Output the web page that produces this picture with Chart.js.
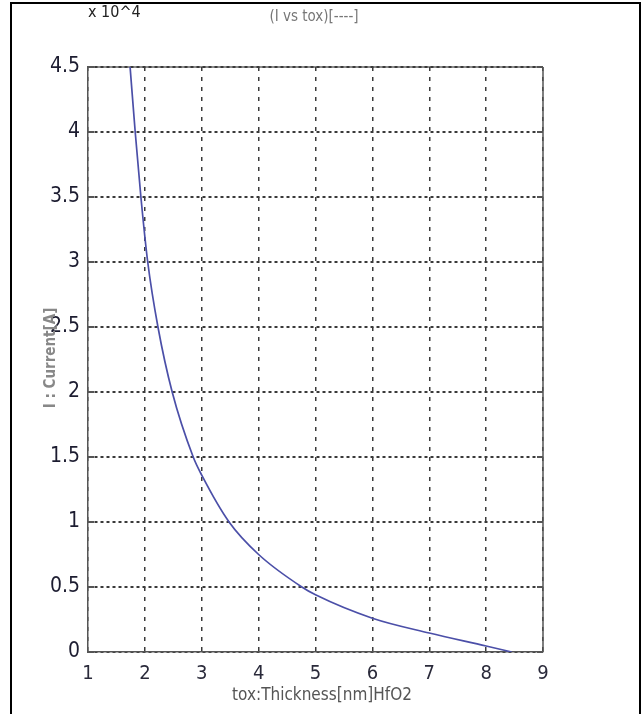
<!DOCTYPE html>
<html>
<head>
<meta charset="utf-8">
<script src="https://cdn.jsdelivr.net/npm/chart.js@4/dist/chart.umd.min.js"></script>
<style>
  body { margin: 0; background: #fff; }
  #wrap { width: 643px; height: 714px; }
</style>
</head>
<body>
<div id="wrap"><canvas id="ivsTox" width="643" height="714"></canvas></div>
<script>
// values (current in units of 10^4 A)
var toxNm = [1.74, 1.83, 1.93, 2.05, 2.23, 2.48, 2.85, 3.0, 3.48, 4.0, 4.76, 5.0, 6.0, 7.0, 8.0, 8.45];
var currentA = [4.5, 4.0, 3.5, 3.0, 2.5, 2.0, 1.5, 1.36, 1.0, 0.75, 0.5, 0.44, 0.26, 0.146, 0.046, 0.0];

var xTicks = [1, 2, 3, 4, 5, 6, 7, 8, 9];
var yTicks = [0, 0.5, 1, 1.5, 2, 2.5, 3, 3.5, 4, 4.5];

var narrow = "'Liberation Sans Narrow', 'DejaVu Sans Condensed', sans-serif";

var points = toxNm.map(function (t, i) { return { x: t, y: currentA[i] }; });

var decor = {
    id: 'decor',
    beforeDraw: function (chart) {
        var ctx = chart.ctx, a = chart.chartArea;
        ctx.save();
        ctx.fillStyle = '#fff';
        ctx.fillRect(0, 0, chart.width, chart.height);
        // outer frame
        ctx.strokeStyle = '#000';
        ctx.lineWidth = 2;
        ctx.strokeRect(11, 3, 629, 720);
        // top edge of the plot box, dots go on top of it
        ctx.strokeStyle = '#666';
        ctx.lineWidth = 1.5;
        ctx.beginPath();
        ctx.moveTo(a.left, a.top);
        ctx.lineTo(a.right, a.top);
        ctx.stroke();
        ctx.restore();
    },
    afterDraw: function (chart) {
        var ctx = chart.ctx, a = chart.chartArea;
        var ys = chart.scales.y;
        ctx.save();
        // right edge
        ctx.strokeStyle = '#555';
        ctx.lineWidth = 1.5;
        ctx.beginPath();
        ctx.moveTo(a.right, a.top);
        ctx.lineTo(a.right, a.bottom);
        ctx.stroke();
        // inner tick marks
        ctx.lineWidth = 2;
        yTicks.forEach(function (v) {
            var py = ys.getPixelForValue(v);
            ctx.beginPath();
            ctx.moveTo(a.left, py);
            ctx.lineTo(a.left + 6, py);
            ctx.moveTo(a.right - 6, py);
            ctx.lineTo(a.right, py);
            ctx.stroke();
        });

        ctx.textBaseline = 'middle';
        ctx.fillStyle = '#222';
        ctx.textAlign = 'left';
        ctx.font = '16px ' + narrow;
        ctx.fillText('x 10^4', 88, 13);

        ctx.fillStyle = '#777';
        ctx.textAlign = 'center';
        ctx.font = '15px ' + narrow;
        ctx.fillText('(I vs tox)[----]', 314, 17);

        ctx.fillStyle = '#555';
        ctx.font = '17px ' + narrow;
        ctx.fillText('tox:Thickness[nm]HfO2', 322, 696);

        ctx.translate(51, 358);
        ctx.rotate(-Math.PI / 2);
        ctx.fillStyle = '#888';
        ctx.font = 'bold 15px ' + narrow;
        ctx.fillText('I : Current[A]', 0, 0);
        ctx.restore();
    }
};

var ctx = document.getElementById('ivsTox').getContext('2d');
var ivsToxChart = new Chart(ctx, {
    type: 'scatter',
    data: {
        datasets: [{
            data: points,
            showLine: true,
            borderColor: '#4b4fa8',
            borderWidth: 1.7,
            pointRadius: 0,
            fill: false,
            cubicInterpolationMode: 'monotone'
        }]
    },
    options: {
        responsive: false,
        animation: false,
        layout: { padding: { left: 0, top: 67, right: 100, bottom: 0 } },
        plugins: { legend: { display: false }, tooltip: { enabled: false }, title: { display: false } },
        scales: {
            x: {
                type: 'linear',
                min: xTicks[0],
                max: xTicks[xTicks.length - 1],
                afterBuildTicks: function (s) { s.ticks = xTicks.map(function (v) { return { value: v }; }); },
                afterFit: function (s) { s.height = 62; },
                ticks: {
                    padding: 10, color: '#2a2a3a', font: { family: narrow, size: 20 },
                    callback: function (v) { return String(v); }
                },
                grid: { color: '#3a3a3a', lineWidth: 1.5, drawTicks: false },
                border: { color: '#555', width: 1.5, dash: [4, 6] }
            },
            y: {
                type: 'linear',
                min: yTicks[0],
                max: yTicks[yTicks.length - 1],
                afterBuildTicks: function (s) { s.ticks = yTicks.map(function (v) { return { value: v }; }); },
                afterFit: function (s) { s.width = 88; },
                ticks: {
                    padding: 8, color: '#1c1c30', font: { family: narrow, size: 21 },
                    callback: function (v) { return String(v); }
                },
                grid: { color: '#3a3a3a', lineWidth: 2, drawTicks: false },
                border: { color: '#555', width: 1.5, dash: [3, 3] }
            }
        }
    },
    plugins: [decor]
});
</script>
</body>
</html>
